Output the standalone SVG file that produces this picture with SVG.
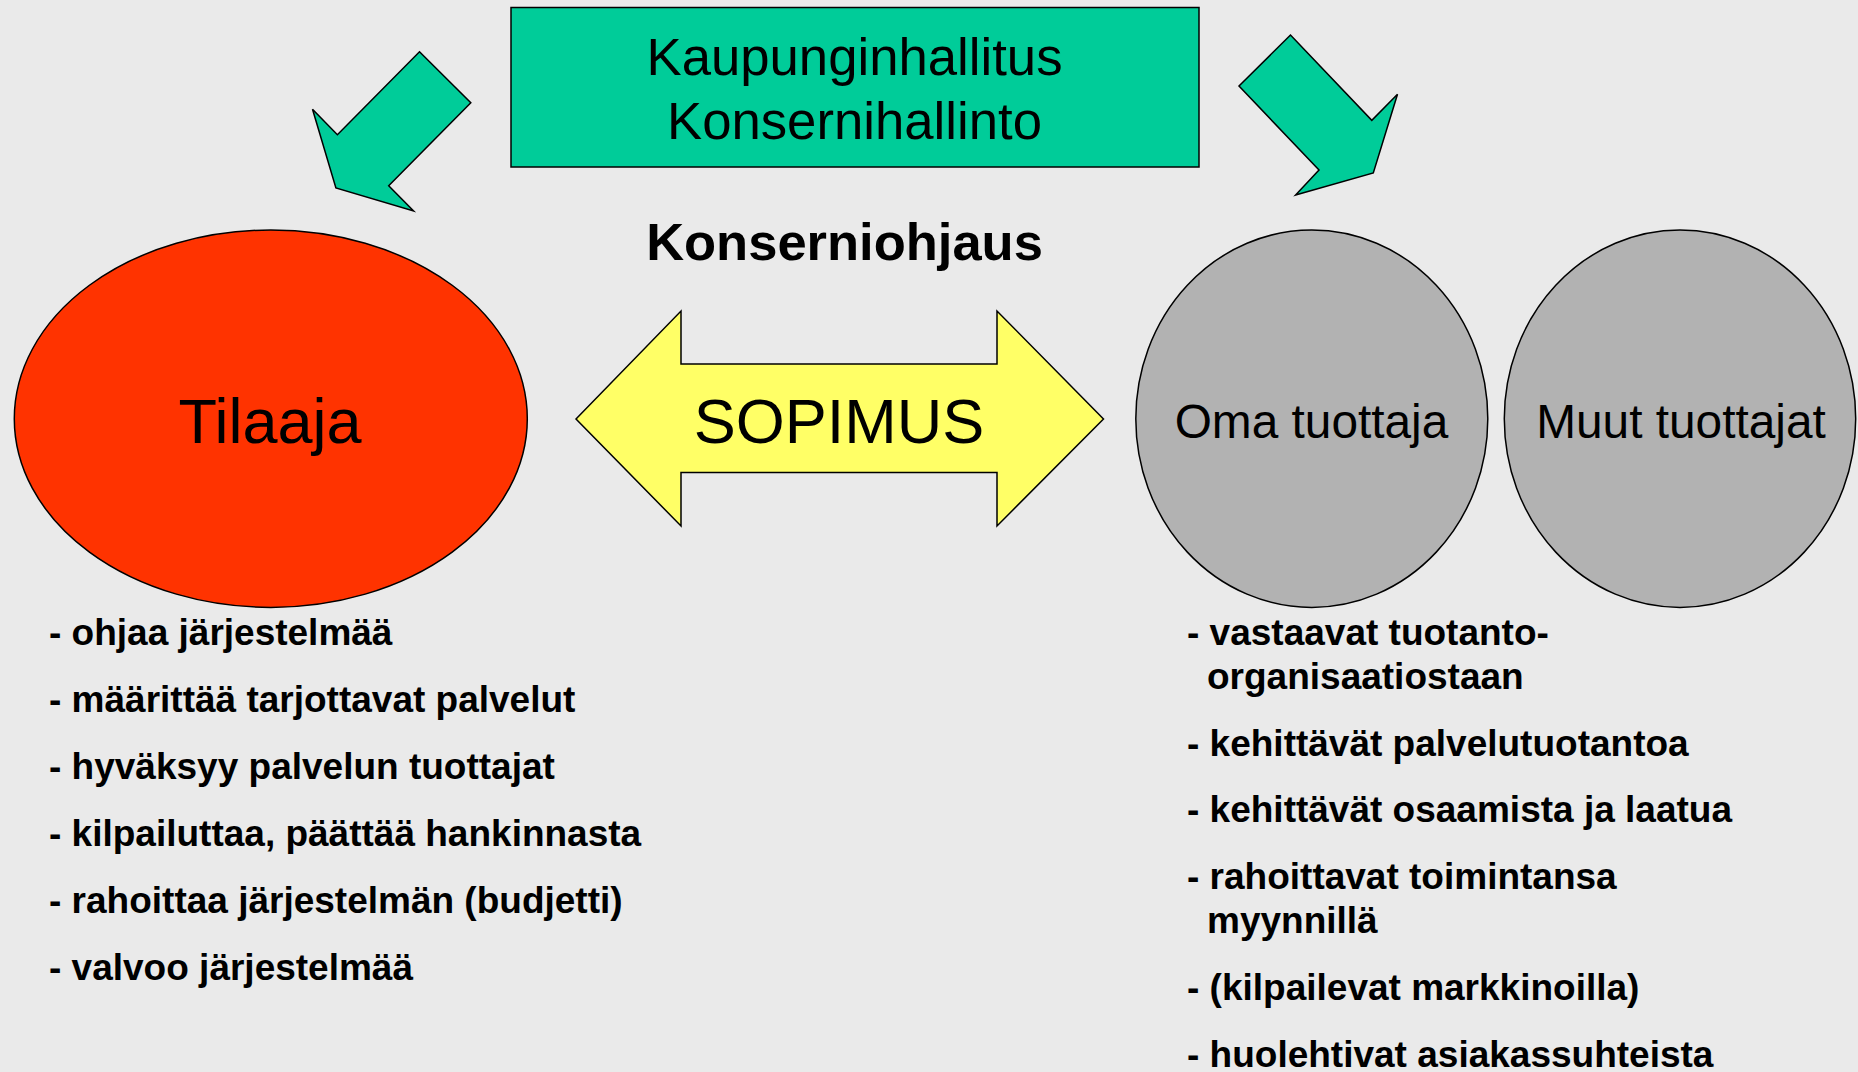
<svg xmlns="http://www.w3.org/2000/svg" width="1858" height="1072" viewBox="0 0 1858 1072">
<style>
.bg{fill:#EAEAEA}
.shape{stroke:#000;stroke-width:1.5;stroke-linejoin:miter}
.green{fill:#00CC99}
.red{fill:#FF3300}
.grey{fill:#B2B2B2}
.yellow{fill:#FFFF66}
.t{font-family:"Liberation Sans",Arial,sans-serif;fill:#000}
.c{text-anchor:middle}
.list{font-family:"Liberation Sans",Arial,sans-serif;font-weight:bold;font-size:37px;fill:#000}
</style>
<rect class="bg" x="0" y="0" width="1858" height="1072"/>
<g id="connectors">
  <polygon class="shape green" points="419.5,51.7 470.8,102.7 388.7,185.7 413.6,211 335.9,188 312.5,109.3 337.4,134.7"/>
  <polygon class="shape green" points="1290.5,35 1239,86 1319,170 1295.6,195 1373.3,173 1397.5,94.3 1371.8,120.3"/>
  <g id="sopimus">
    <polygon class="shape yellow" points="576,419 681,311 681,364 997,364 997,311 1103.5,419 997,526 997,472.5 681,472.5 681,526"/>
    <text class="t c" x="839" y="442.5" font-size="63">SOPIMUS</text>
  </g>
</g>
<g id="kaupunginhallitus">
  <rect class="shape green" x="511" y="7.5" width="688" height="159.5"/>
  <text class="t c" x="854.5" y="75" font-size="52.7">Kaupunginhallitus</text>
  <text class="t c" x="854.5" y="138.5" font-size="52.7">Konsernihallinto</text>
</g>
<g id="konserniohjaus">
  <text class="t c" x="844.5" y="260" font-size="52.5" font-weight="bold">Konserniohjaus</text>
</g>
<g id="tilaaja">
  <ellipse class="shape red" cx="270.8" cy="418.7" rx="256.5" ry="188.7"/>
  <text class="t c" x="270" y="442.5" font-size="63">Tilaaja</text>
</g>
<g id="oma-tuottaja">
  <ellipse class="shape grey" cx="1311.8" cy="418.7" rx="176" ry="188.7"/>
  <text class="t c" x="1311.5" y="437.5" font-size="47.8">Oma tuottaja</text>
</g>
<g id="muut-tuottajat">
  <ellipse class="shape grey" cx="1680" cy="418.7" rx="175.7" ry="188.7"/>
  <text class="t c" x="1681" y="437.5" font-size="47.8">Muut tuottajat</text>
</g>
<g id="tilaaja-list">
  <text class="list" x="49" y="645">- ohjaa järjestelmää</text>
  <text class="list" x="49" y="712">- määrittää tarjottavat palvelut</text>
  <text class="list" x="49" y="779">- hyväksyy palvelun tuottajat</text>
  <text class="list" x="49" y="846">- kilpailuttaa, päättää hankinnasta</text>
  <text class="list" x="49" y="913">- rahoittaa järjestelmän (budjetti)</text>
  <text class="list" x="49" y="980">- valvoo järjestelmää</text>
</g>
<g id="tuottaja-list">
  <text class="list" x="1187" y="645">- vastaavat tuotanto-</text>
  <text class="list" x="1207" y="689">organisaatiostaan</text>
  <text class="list" x="1187" y="756">- kehittävät palvelutuotantoa</text>
  <text class="list" x="1187" y="822">- kehittävät osaamista ja laatua</text>
  <text class="list" x="1187" y="889">- rahoittavat toimintansa</text>
  <text class="list" x="1207" y="933">myynnillä</text>
  <text class="list" x="1187" y="1000">- (kilpailevat markkinoilla)</text>
  <text class="list" x="1187" y="1067">- huolehtivat asiakassuhteista</text>
</g>
</svg>
